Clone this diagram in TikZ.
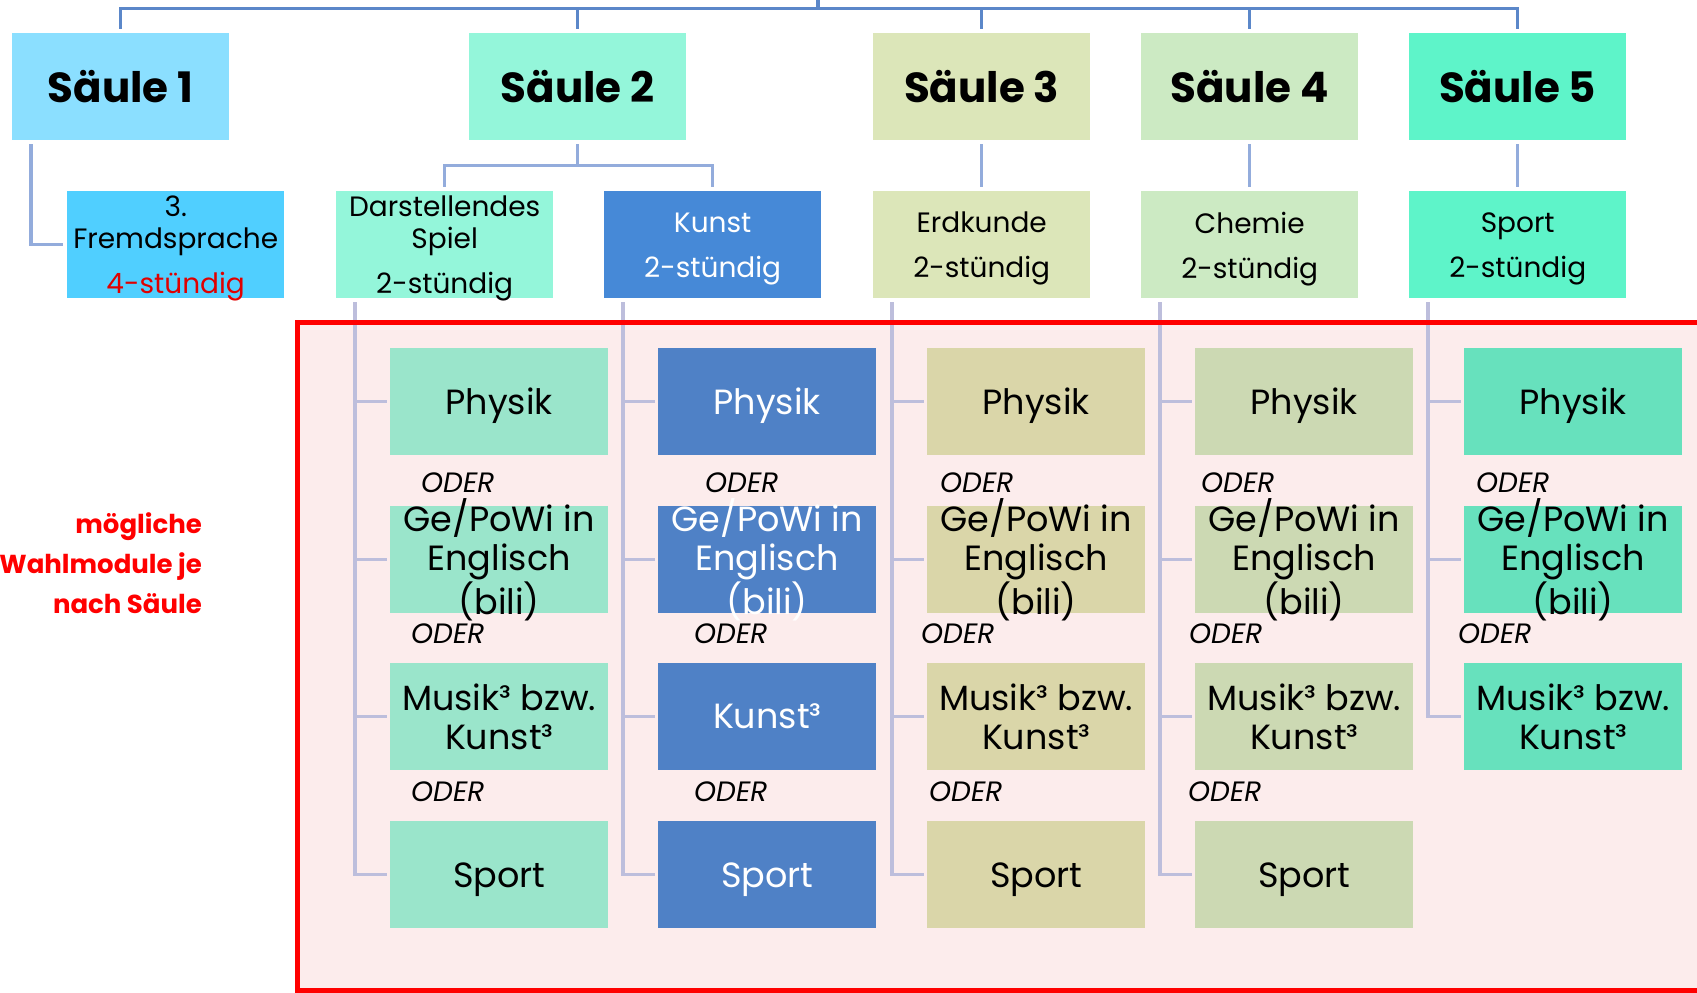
\documentclass[tikz,border=0pt]{standalone}
\usepackage{fontspec}
\setmainfont{Poppins}
\usetikzlibrary{calc}
\definecolor{cSA}{HTML}{8BDFFF}
\definecolor{cCA}{HTML}{50CFFF}
\definecolor{cSB}{HTML}{94F6DA}
\definecolor{cKB}{HTML}{4689D7}
\definecolor{cSC}{HTML}{DCE6B9}
\definecolor{cSD}{HTML}{CCEAC3}
\definecolor{cSE}{HTML}{5EF4C9}
\definecolor{cMA}{HTML}{9AE5CB}
\definecolor{cMB}{HTML}{4F81C6}
\definecolor{cMC}{HTML}{DAD6A9}
\definecolor{cMD}{HTML}{CCD9B3}
\definecolor{cME}{HTML}{67E1BD}
\definecolor{cBg}{HTML}{FCECEC}
\definecolor{cTop}{HTML}{5B87C9}
\definecolor{cMid}{HTML}{93ACDC}
\definecolor{cMod}{HTML}{BDBEDC}
\definecolor{cRedTxt}{HTML}{E00000}
% box + text placed with a vertical offset (positive = down)
% #1 name, #2 x, #3 y, #4 fill, #5 text colour, #6 offset, #7 text
\newcommand{\modbox}[7]{%
  \node[modul, fill=#4] (#1) at (#2,#3) {};
  \node[mtext, text=#5] (#1t) at ($(#1.center)+(0,#6)$) {#7};}
\newcommand{\chbox}[7]{%
  \node[box, fill=#4] (#1) at (#2,#3) {};
  \node[ctext, text=#5] (#1t) at ($(#1.center)+(0,#6)$) {#7};}
\begin{document}
\begin{tikzpicture}[x=1pt,y=-1pt,
  box/.style={inner sep=0pt, anchor=north west, minimum width=217pt, minimum height=107pt, align=center},
  saule/.style={box, font=\bfseries\fontsize{42}{48}\selectfont},
  ctext/.style={inner sep=0pt, align=center, font=\fontsize{28}{32}\selectfont},
  modul/.style={box, minimum width=218pt},
  mtext/.style={inner sep=0pt, align=center, font=\fontsize{35}{39}\selectfont},
  oder/.style={anchor=west, inner sep=0pt, font=\itshape\fontsize{28}{32}\selectfont},
  topline/.style={draw=cTop, line width=3.5pt},
  midline/.style={draw=cMid, line width=3.5pt},
  modline/.style={draw=cMod, line width=3.5pt},
]
\useasboundingbox (0,0) rectangle (1697,993);
\begin{scope}
\clip (0,0) rectangle (1697,993);
% background of the module area
\fill[cBg] (297,322) rectangle (1720,1010);

% Saeulen
\node[saule, fill=cSA] (s1) at (12,33) {Säule 1};
\node[saule, fill=cSB] (s2) at (469,33) {Säule 2};
\node[saule, fill=cSC] (s3) at (873,33) {Säule 3};
\node[saule, fill=cSD] (s4) at (1141,33) {Säule 4};
\node[saule, fill=cSE] (s5) at (1409,33) {Säule 5};

% children
\chbox{c1}{67}{191}{cCA}{black}{4}{3.\\Fremdsprache\\[13pt]\textcolor{cRedTxt}{4-stündig}}
\chbox{c2a}{336}{191}{cSB}{black}{4}{Darstellendes\\Spiel\\[13pt]2-stündig}
\chbox{c2b}{604}{191}{cKB}{white}{4}{Kunst\\[13pt]2-stündig}
\chbox{c3}{873}{191}{cSC}{black}{4}{Erdkunde\\[13pt]2-stündig}
\chbox{c4}{1141}{191}{cSD}{black}{4}{Chemie\\[13pt]2-stündig}
\chbox{c5}{1409}{191}{cSE}{black}{4}{Sport\\[13pt]2-stündig}

% top connectors
\coordinate (root) at (818,-3);
\coordinate (hub) at (818,8.5);
\draw[topline] (root) -- (hub);
\foreach \s in {s1,s2,s3,s4,s5}
  \draw[topline] (hub) -| ($(\s.north)+(0,-4)$);

% second level connectors
\draw[midline] ($(s1.south west)+(19,4)$) |- ($(c1.west)+(-4,0)$);
\coordinate (s2hub) at ($(s2.south)+(0,25)$);
\draw[midline] ($(s2.south)+(0,4)$) -- (s2hub);
\draw[midline] (s2hub) -| ($(c2a.north)+(0,-4)$);
\draw[midline] (s2hub) -| ($(c2b.north)+(0,-4)$);
\draw[midline] ($(s3.south)+(0,4)$) -- ($(c3.north)+(0,-4)$);
\draw[midline] ($(s4.south)+(0,4)$) -- ($(c4.north)+(0,-4)$);
\draw[midline] ($(s5.south)+(0,4)$) -- ($(c5.north)+(0,-4)$);

% modules column A
\modbox{m21}{390}{348}{cMA}{black}{4}{Physik}
\modbox{m22}{390}{506}{cMA}{black}{0}{Ge/PoWi in\\Englisch\\(bili)}
\modbox{m23}{390}{663}{cMA}{black}{0}{Musik³ bzw.\\Kunst³}
\modbox{m24}{390}{821}{cMA}{black}{5}{Sport}
% column B
\modbox{m31}{658}{348}{cMB}{white}{4}{Physik}
\modbox{m32}{658}{506}{cMB}{white}{0}{Ge/PoWi in\\Englisch\\(bili)}
\modbox{m33}{658}{663}{cMB}{white}{0}{Kunst³}
\modbox{m34}{658}{821}{cMB}{white}{5}{Sport}
% column C
\modbox{m41}{927}{348}{cMC}{black}{4}{Physik}
\modbox{m42}{927}{506}{cMC}{black}{0}{Ge/PoWi in\\Englisch\\(bili)}
\modbox{m43}{927}{663}{cMC}{black}{0}{Musik³ bzw.\\Kunst³}
\modbox{m44}{927}{821}{cMC}{black}{5}{Sport}
% column D
\modbox{m51}{1195}{348}{cMD}{black}{4}{Physik}
\modbox{m52}{1195}{506}{cMD}{black}{0}{Ge/PoWi in\\Englisch\\(bili)}
\modbox{m53}{1195}{663}{cMD}{black}{0}{Musik³ bzw.\\Kunst³}
\modbox{m54}{1195}{821}{cMD}{black}{5}{Sport}
% column E
\modbox{m61}{1464}{348}{cME}{black}{4}{Physik}
\modbox{m62}{1464}{506}{cME}{black}{0}{Ge/PoWi in\\Englisch\\(bili)}
\modbox{m63}{1464}{663}{cME}{black}{0}{Musik³ bzw.\\Kunst³}

% module connectors
\foreach \m in {m21,m22,m23,m24}
  \draw[modline] ($(c2a.south west)+(19,4)$) |- ($(\m.west)+(-3,0)$);
\foreach \m in {m31,m32,m33,m34}
  \draw[modline] ($(c2b.south west)+(19,4)$) |- ($(\m.west)+(-3,0)$);
\foreach \m in {m41,m42,m43,m44}
  \draw[modline] ($(c3.south west)+(19,4)$) |- ($(\m.west)+(-3,0)$);
\foreach \m in {m51,m52,m53,m54}
  \draw[modline] ($(c4.south west)+(19,4)$) |- ($(\m.west)+(-3,0)$);
\foreach \m in {m61,m62,m63}
  \draw[modline] ($(c5.south west)+(19,4)$) |- ($(\m.west)+(-3,0)$);

% ODER labels
\node[oder] (o21) at (421,483) {ODER};
\node[oder] (o22) at (411,634) {ODER};
\node[oder] (o23) at (411,792) {ODER};
\node[oder] (o31) at (705,483) {ODER};
\node[oder] (o32) at (694,634) {ODER};
\node[oder] (o33) at (694,792) {ODER};
\node[oder] (o41) at (940,483) {ODER};
\node[oder] (o42) at (921,634) {ODER};
\node[oder] (o43) at (929,792) {ODER};
\node[oder] (o51) at (1201,483) {ODER};
\node[oder] (o52) at (1189,634) {ODER};
\node[oder] (o53) at (1188,792) {ODER};
\node[oder] (o61) at (1476,483) {ODER};
\node[oder] (o62) at (1458,634) {ODER};

% red frame
\draw[red, line width=5pt] (1720,322) -- (297,322) -- (297,990.5) -- (1720,990.5);

% side label
\node[anchor=east, align=right, inner sep=0pt, text=red, font=\bfseries\fontsize{26}{40}\selectfont] (lbl) at (202,563) {mögliche\\Wahlmodule je\\nach Säule};
\end{scope}
\end{tikzpicture}
\end{document}
